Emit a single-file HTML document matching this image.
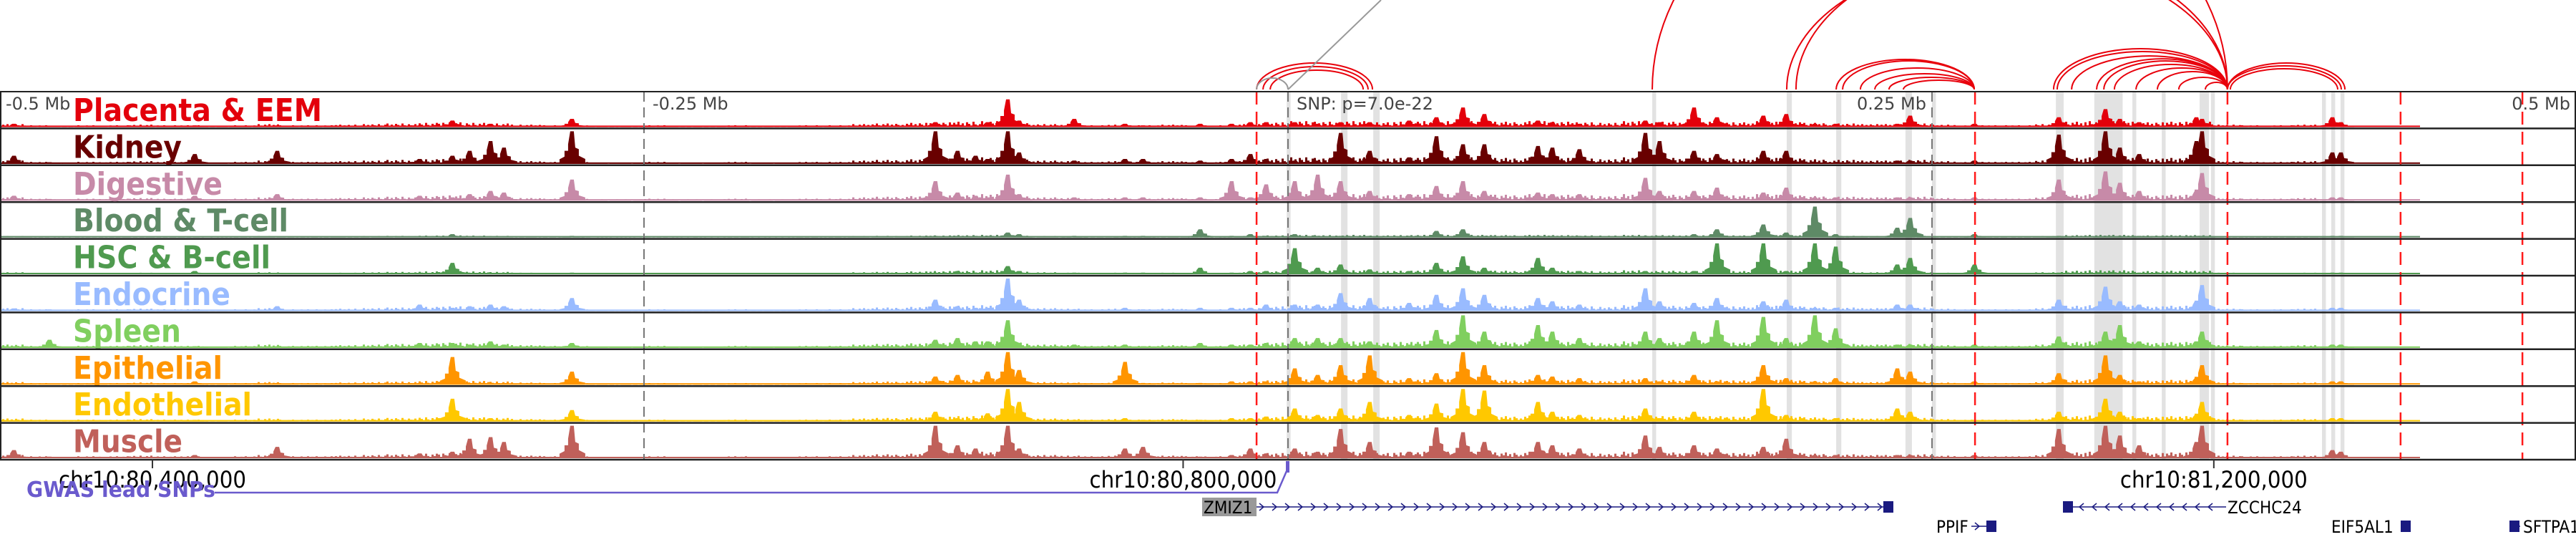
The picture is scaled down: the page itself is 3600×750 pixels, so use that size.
<!DOCTYPE html>
<html><head><meta charset="utf-8"><style>
html,body{margin:0;padding:0;background:#fff;}
svg{display:block;}
</style></head><body>
<svg id="chart" xmlns="http://www.w3.org/2000/svg" width="3600" height="750" viewBox="0 0 3600 750">
<g id="arcs"></g>
<g id="bands"></g>
<g id="tracks"></g>
<g id="vlines"></g>
<g id="labels"></g>
<g id="axis"></g>
<g id="genes"></g>
</svg>
<script>
// ---- data ----
const peakKb = [-494.4,-480.6,-424.2,-392.2,-336.9,-324.2,-317.5,-309.4,-304.2,-277.8,-136.7,-128.1,-121.1,-116.4,-108.6,-104.2,-82.8,-63.1,-56.1,-33.9,-21.7,-14.4,-8.3,2.8,11.7,20.6,31.9,47.2,57.8,68.1,76.4,97.2,102.8,113.3,138.9,144.4,157.8,166.7,184.7,193.6,204.7,212.8,236.7,241.7,266.7,299.4,317.5,323.1,330.6,352.8,355,405.6,408.9];
const trackNames = ["Placenta & EEM","Kidney","Digestive","Blood & T-cell","HSC & B-cell","Endocrine","Spleen","Epithelial","Endothelial","Muscle"];
const placenta = [0.1,0,0.05,0.05,0.05,0.2,0.05,0.1,0.05,0.25,0.15,0.05,0.05,0.15,0.85,0.2,0.25,0.1,0.05,0.1,0.1,0.15,0.15,0.15,0.1,0.15,0.15,0.2,0.3,0.6,0.4,0.2,0.15,0.1,0.2,0.15,0.6,0.3,0.35,0.4,0.1,0.1,0.1,0.35,0.1,0.3,0.55,0.25,0.15,0.3,0.25,0.3,0.15];
const kidney = [0.25,0.05,0.3,0.4,0.15,0.25,0.4,0.7,0.5,1.0,1.0,0.4,0.25,0.15,1.0,0.35,0.1,0.15,0.15,0.1,0.15,0.3,0.15,0.1,0.1,0.95,0.4,0.2,0.85,0.6,0.6,0.55,0.5,0.45,0.95,0.7,0.4,0.3,0.4,0.4,0.05,0.05,0.1,0.1,0.1,0.9,1.0,0.5,0.3,0.7,1.0,0.35,0.35];
const digestive = [0.15,0.05,0.15,0.2,0.15,0.1,0.2,0.3,0.25,0.65,0.6,0.25,0.15,0.1,0.8,0.2,0.1,0.1,0.1,0.1,0.6,0.1,0.5,0.6,0.8,0.6,0.3,0.2,0.45,0.6,0.3,0.25,0.2,0.2,0.7,0.3,0.3,0.4,0.25,0.4,0.1,0.1,0.1,0.1,0.1,0.65,0.9,0.55,0.3,0.3,0.85,0.1,0.1];
const blood = [0,0,0,0,0,0.1,0,0,0,0.05,0.05,0.05,0.05,0.05,0.15,0.1,0.05,0.05,0.05,0.25,0.05,0.1,0.05,0.1,0.05,0.05,0.05,0.05,0.2,0.25,0.05,0.05,0.05,0.05,0.05,0.05,0.1,0.25,0.4,0.15,0.95,0.1,0.3,0.6,0.1,0.05,0.05,0.05,0.05,0.05,0.05,0.05,0.05];
const hsc = [0,0,0.1,0,0,0.35,0,0,0,0.05,0.05,0.1,0.05,0.05,0.25,0.1,0.05,0.05,0.05,0.2,0.05,0.1,0.1,0.8,0.2,0.3,0.15,0.1,0.35,0.55,0.2,0.5,0.2,0.1,0.1,0.05,0.1,0.95,0.95,0.1,0.95,0.85,0.3,0.5,0.3,0.05,0.05,0.05,0.05,0.05,0.05,0.05,0.05];
const endocrine = [0.08,0.05,0.05,0.15,0.2,0.1,0.15,0.2,0.15,0.4,0.35,0.15,0.1,0.1,1.0,0.35,0.05,0.1,0.05,0.1,0.1,0.1,0.2,0.2,0.2,0.55,0.4,0.25,0.5,0.7,0.5,0.4,0.3,0.2,0.7,0.3,0.25,0.4,0.3,0.35,0.1,0.1,0.2,0.2,0.05,0.35,0.75,0.3,0.2,0.3,0.8,0.1,0.1];
const spleen = [0.05,0.25,0.05,0.05,0.15,0.15,0.1,0.2,0.1,0.15,0.25,0.3,0.2,0.2,0.85,0.1,0.1,0.1,0.05,0.15,0.1,0.1,0.15,0.3,0.3,0.3,0.2,0.1,0.55,1.0,0.5,0.7,0.5,0.3,0.5,0.3,0.5,0.85,0.95,0.3,1.0,0.6,0.1,0.1,0.1,0.35,0.5,0.7,0.2,0.2,0.5,0.1,0.1];
const epithelial = [0.03,0,0.1,0.05,0.05,0.85,0.05,0.05,0.05,0.4,0.25,0.3,0.1,0.4,1.0,0.45,0.05,0.7,0.05,0.05,0.1,0.1,0.1,0.5,0.3,0.6,0.9,0.2,0.35,1.0,0.6,0.3,0.25,0.2,0.2,0.1,0.3,0.1,0.6,0.2,0.1,0.2,0.5,0.4,0.1,0.35,0.9,0.3,0.1,0.2,0.6,0.1,0.1];
const endothelial = [0.03,0,0.05,0.05,0.05,0.7,0.05,0.1,0.05,0.35,0.3,0.1,0.1,0.25,1.0,0.6,0.05,0.1,0.05,0.05,0.1,0.1,0.15,0.4,0.2,0.4,0.6,0.2,0.55,1.0,0.95,0.6,0.3,0.2,0.4,0.1,0.3,0.1,1.0,0.2,0.05,0.1,0.4,0.3,0.05,0.3,0.7,0.3,0.1,0.2,0.6,0.1,0.1];
const muscle = [0.25,0.05,0.1,0.35,0.15,0.2,0.6,0.65,0.5,1.0,1.0,0.4,0.3,0.1,1.0,0.3,0.05,0.3,0.35,0.05,0.1,0.3,0.15,0.3,0.2,0.9,0.5,0.2,0.95,0.8,0.5,0.5,0.4,0.3,0.7,0.35,0.4,0.3,0.35,0.6,0.1,0.1,0.1,0.1,0.1,0.9,1.0,0.7,0.4,0.5,1.0,0.25,0.2];
// background accessibility per 10 kb bin starting at -500 kb
const activity = [0.5,0.3,0.2,0.3,0.3,0.4,0.3,0.3,0.2,0.3, 0.5,0.3,0.3,0.4,0.5,0.6,0.7,0.8,0.7,0.6, 0.4,0.3,0.3,0.2,0.2,0.3,0.2,0.2,0.3,0.2, 0.2,0.3,0.3,0.5,0.6,0.7,0.8,0.9,1.0,0.8, 0.5,0.4,0.3,0.4,0.3,0.4,0.3,0.3,0.5,0.8, 1.0,0.9,1.0,0.8,0.9,1.0,1.0,1.0,0.9,1.0, 0.9,0.8,0.7,1.0,0.9,0.8,0.9,0.8,1.0,0.9, 0.7,0.6,0.5,0.5,0.6,0.4,0.3,0.3,0.3,0.5, 0.9,1.0,1.0,0.8,0.9,0.9,0.4,0.3,0.3,0.4];
const activityScale = [0.9,1.0,1.0,0.4,0.6,0.9,1.0,0.8,0.9,1.0];
const bandKb = [-0.5,20.6,33.1,141.4,193.6,212.8,239.7,250,298.1,313,322.2,327.8,339.2,353.9,358.3,401.4,405,408.6];
const bandWidthKb = [1.5,2.5,2.5,1.5,2,2,2.5,1.5,3,11,1.5,1.5,1.5,3.6,1.5,1.5,1.5,1.5];
const redLineKb = [-12.2,266.7,364.7,431.9,479.2];
const grayLineKb = [-250,0,250];
const arcStartKb = [-12.2,-9.7,-6.9,141.4,193.6,197.2,212.8,215.3,222.2,227.8,233.3,238.9,297.2,298.6,304.2,313.9,316.7,320.8,329.2,337.5,345.8,356.1,364.7,364.7,365.8];
const arcEndKb = [32.8,31.1,29.2,364.7,364.7,364.7,266.4,266.4,266.4,266.4,266.4,266.4,364.7,364.7,364.7,364.7,364.7,364.7,364.7,364.7,364.7,364.7,410.3,408.9,407.5];
const arcHeight = [37,32,27,330,185,195,42,40,30,22,17,13,57,53,47,43,40,35,30,25,17,10,37,33,29];
const axisTicks = [80400000,80800000,81200000];
const axisTickLabels = ["chr10:80,400,000","chr10:80,800,000","chr10:81,200,000"];
const mbTickKb = [-500,-250,250,500];
const mbTickLabels = ["-0.5 Mb","-0.25 Mb","0.25 Mb","0.5 Mb"];

// ---- scales ----
const SNP_POS = 80840700;
const xKb = kb => 1800 + kb*3.6;
const xBp = bp => 1800 + (bp-SNP_POS)/277.7;
const NS = "http://www.w3.org/2000/svg";
function mk(tag, attrs, parent){const e=document.createElementNS(NS,tag);for(const k in attrs)e.setAttribute(k,attrs[k]);parent.appendChild(e);return e;}

const colors = ["#e3000b","#690000","#c78aa8","#5e8a66","#4f9a4f","#99bbff","#80cf5f","#ff9500","#ffc800","#c0605a"];
const series = [placenta,kidney,digestive,blood,hsc,endocrine,spleen,epithelial,endothelial,muscle];
const labelWidths = [348,152,209,301,276,220,151,209,250,153];
const texture = [0.3,0.8,0.5,1,0.4,0.7,0.2,0.9,0.6,0.3,1,0.5];
const TOP=128, TH=51.4, BOTTOM=642;

// bands
const bandsG=document.getElementById('bands');
bandKb.forEach((kb,i)=>{
  const r=mk('rect',{x:xKb(kb),y:TOP,width:Math.max(4,bandWidthKb[i]*3.6),height:BOTTOM-TOP,fill:'#e2e2e2'},bandsG);
  
  
});

// tracks
const tracksG=document.getElementById('tracks');
series.forEach((vals,t)=>{
  const yb=TOP+TH*(t+1)-2, H=TH-6;
  const g=mk('g',{},tracksG);
  
  
  mk('rect',{x:2,y:yb-2,width:3380,height:2,fill:colors[t]},g);
  // background texture
  let bd='';
  activity.forEach((a,b)=>{
    const x0=xKb(-500+b*10);
    for(let k=0;k<12;k++){
      const h=a*activityScale[t]*0.2*H*texture[(k+b)%12];
      if(h<0.5) continue;
      bd+=`M${x0+k*3} ${yb}h3v${-h}h-3Z`;
    }
  });
  const bp=mk('path',{d:bd,fill:colors[t]},g);
  
  
  let d='';
  vals.forEach((h,i)=>{
    if(h<=0) return;
    const x=xKb(peakKb[i]), ph=h*H;
    d+=`M${x-18} ${yb}L${x-18} ${yb-ph*0.14}L${x-11} ${yb-ph*0.22}L${x-11} ${yb-ph*0.4}L${x-6} ${yb-ph*0.4}L${x-6} ${yb-ph*0.6}L${x-3} ${yb-ph}L${x+2} ${yb-ph}L${x+4} ${yb-ph*0.5}L${x+9} ${yb-ph*0.45}L${x+9} ${yb-ph*0.25}L${x+18} ${yb-ph*0.15}L${x+18} ${yb}Z`;
  });
  const p=mk('path',{d:d,fill:colors[t]},g);
  
  
});

// vertical lines
const vG=document.getElementById('vlines');
grayLineKb.forEach(kb=>{
  const l=mk('line',{x1:xKb(kb),x2:xKb(kb),y1:TOP,y2:BOTTOM,stroke:'#777','stroke-width':2,'stroke-dasharray':'14 8'},vG);
  
  
});
redLineKb.forEach(kb=>{
  const l=mk('line',{x1:xKb(kb),x2:xKb(kb),y1:TOP,y2:BOTTOM,stroke:'#ff1a1a','stroke-width':2.5,'stroke-dasharray':'18 10'},vG);
  
  
});
for(let t=0;t<=10;t++){
  const l=mk('line',{x1:0,x2:3600,y1:TOP+TH*t,y2:TOP+TH*t,stroke:'#222','stroke-width':t==0?2:2.5},vG);
  
  
}
mk('line',{x1:1,x2:1,y1:TOP,y2:BOTTOM,stroke:'#222','stroke-width':2},vG);
mk('line',{x1:3599,x2:3599,y1:TOP,y2:BOTTOM,stroke:'#222','stroke-width':2},vG);

// labels
const labG=document.getElementById('labels');
trackNames.forEach((n,t)=>{
  const tx=mk('text',{x:102,y:TOP+TH*t+41,fill:colors[t],'font-family':'"DejaVu Sans Condensed","DejaVu Sans",sans-serif','font-weight':'bold','font-size':44,textLength:labelWidths[t],lengthAdjust:'spacingAndGlyphs'},labG);
  tx.textContent=n;
  
  
});
mbTickKb.forEach((kb,i)=>{
  const neg = kb<0;
  const x = i==0?8:(i==3?3592:(neg?xKb(kb)+12:xKb(kb)-8));
  const tx=mk('text',{x:x,y:153,'text-anchor':neg?'start':'end',fill:'#444','font-family':'"DejaVu Sans",sans-serif','font-size':24},labG);
  tx.textContent=mbTickLabels[i];
  
  
});
{const tx=mk('text',{x:1812,y:153,fill:'#444','font-family':'"DejaVu Sans",sans-serif','font-size':24},labG);
tx.textContent='SNP: p=7.0e-22';

}

// arcs
const arcG=document.getElementById('arcs');
const BASE=125;
arcStartKb.forEach((s,i)=>{
  const x1=xKb(s), x2=xKb(arcEndKb[i]), h=arcHeight[i], rx=(x2-x1)/2;
  const p=mk('path',{d:`M${x1} ${BASE}A${rx} ${h} 0 0 1 ${x2} ${BASE}`,fill:'none',stroke:'#e8000b','stroke-width':2},arcG);
  
  
});
{const p=mk('path',{d:`M${xKb(-12.2)} ${BASE}A${(xKb(0)-xKb(-12.2))/2} 16 0 0 1 ${xKb(0)} ${BASE}`,fill:'none',stroke:'#999','stroke-width':2},arcG);


const l=mk('line',{x1:xKb(0),y1:BASE,x2:1930,y2:0,stroke:'#999','stroke-width':2},arcG);

}

// axis
const axG=document.getElementById('axis');
axisTicks.forEach((bp,i)=>{
  const x=xBp(bp);
  mk('line',{x1:x,x2:x,y1:BOTTOM,y2:BOTTOM+12,stroke:'#333','stroke-width':2},axG);
  const tx=mk('text',{x:x,y:681,'text-anchor':'middle',fill:'#000','font-family':'"DejaVu Sans",sans-serif','font-size':32,textLength:262,lengthAdjust:'spacingAndGlyphs'},axG);
  tx.textContent=axisTickLabels[i];
  
  
});
{const l=mk('path',{d:`M300 688L1785 688L1798 658`,fill:'none',stroke:'#6a5acd','stroke-width':2.5},axG);


const m=mk('rect',{x:1797,y:644,width:5,height:16,fill:'#6a5acd'},axG);


const tx=mk('text',{x:37,y:694,fill:'#6a5acd','font-family':'"DejaVu Sans Condensed","DejaVu Sans",sans-serif','font-weight':'bold','font-size':30,textLength:264,lengthAdjust:'spacingAndGlyphs'},axG);
tx.textContent='GWAS lead SNPs';

}

// genes
const gG=document.getElementById('genes');
function gene(name,x1,x2,y,dir,labelX,boxed){
  const g=mk('g',{},gG);
  
  
  mk('line',{x1:x1,x2:x2,y1:y,y2:y,stroke:'#1a1a80','stroke-width':1.5},g);
  let d='';
  for(let x=x1+8;x<x2-8;x+=18){ d+= dir>0?`M${x-3} ${y-5}L${x+3} ${y}L${x-3} ${y+5}`:`M${x+3} ${y-5}L${x-3} ${y}L${x+3} ${y+5}`; }
  mk('path',{d:d,fill:'none',stroke:'#1a1a80','stroke-width':1.5},g);
  const ex = dir>0? x2-14 : x1;
  mk('rect',{x:ex,y:y-8,width:14,height:16,fill:'#1a1a80'},g);
  if(boxed) mk('rect',{x:labelX-2,y:y-13,width:76,height:26,fill:'#999'},g);
  const t=mk('text',{x:labelX,y:y+9,fill:'#000','font-family':'"DejaVu Sans Condensed","DejaVu Sans",sans-serif','font-size':24},g);
  t.textContent=name;
}
gene('ZMIZ1',1755,2646,708,1,1682,true);
gene('ZCCHC24',2883,3111,708,-1,3113,false);
gene('PPIF',2755,2790,735,1,2706,false);
gene('EIF5AL1',3355,3369,735,1,3258,false);
gene('SFTPA1',3507,3522,735,-1,3526,false);
</script>
</body></html>
